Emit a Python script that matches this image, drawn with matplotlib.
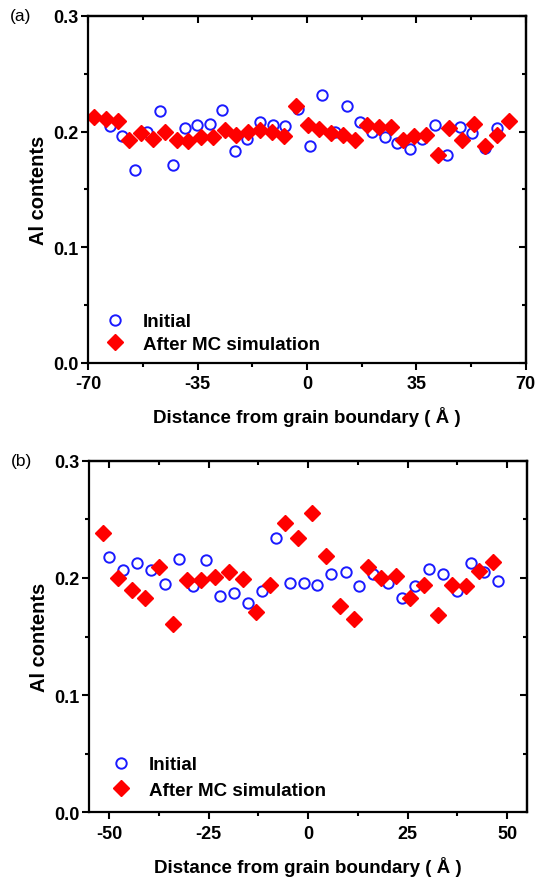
import matplotlib.pyplot as plt
from matplotlib.ticker import MultipleLocator

# panel (a) data
a_init_x = [-63.1, -59.1, -55.0, -51.1, -47.1, -43.0, -39.1, -35.1, -31.1, -27.1, -23.1,
            -19.1, -15.0, -11.0, -7.1, -2.9, 0.9, 4.9, 8.9, 12.9, 16.9, 20.8, 24.9,
            28.9, 32.9, 36.9, 40.9, 44.9, 48.9, 52.9, 56.9, 60.9]
a_init_y = [0.205, 0.196, 0.167, 0.200, 0.218, 0.171, 0.203, 0.206, 0.207, 0.219, 0.183,
            0.194, 0.208, 0.206, 0.205, 0.220, 0.188, 0.232, 0.200, 0.222, 0.208, 0.200,
            0.195, 0.190, 0.185, 0.194, 0.206, 0.180, 0.204, 0.199, 0.186, 0.203]
a_mc_x = [-68.3, -64.4, -60.6, -56.9, -53.1, -49.2, -45.3, -41.7, -38.0, -34.0, -30.2,
          -26.4, -22.7, -18.9, -15.0, -11.1, -7.4, -3.6, 0.2, 4.0, 7.8, 11.4, 15.3,
          19.1, 22.9, 26.8, 30.6, 34.2, 38.0, 42.0, 45.6, 49.6, 53.3, 57.1, 60.9, 64.7]
a_mc_y = [0.213, 0.211, 0.209, 0.193, 0.199, 0.194, 0.200, 0.193, 0.192, 0.195, 0.195,
          0.201, 0.197, 0.200, 0.201, 0.200, 0.196, 0.222, 0.206, 0.202, 0.199, 0.197,
          0.193, 0.206, 0.204, 0.204, 0.193, 0.196, 0.197, 0.180, 0.203, 0.193, 0.207,
          0.188, 0.197, 0.209]

# panel (b) data
b_init_x = [-50.0, -46.5, -43.0, -39.5, -36.0, -32.5, -29.0, -25.6, -22.1, -18.6, -15.1,
            -11.7, -8.2, -4.6, -1.1, 2.3, 5.8, 9.4, 12.9, 16.3, 20.0, 23.5, 26.8,
            30.4, 33.9, 37.4, 40.9, 44.3, 47.8]
b_init_y = [0.218, 0.207, 0.213, 0.207, 0.195, 0.216, 0.193, 0.215, 0.185, 0.187, 0.179,
            0.189, 0.234, 0.196, 0.196, 0.194, 0.203, 0.205, 0.193, 0.203, 0.196, 0.183,
            0.193, 0.208, 0.203, 0.189, 0.213, 0.205, 0.197]
b_mc_x = [-51.5, -47.8, -44.3, -40.9, -37.4, -33.9, -30.4, -27.0, -23.5, -20.0, -16.3,
          -13.0, -9.6, -5.9, -2.6, 1.0, 4.5, 8.0, 11.5, 15.0, 18.4, 22.0, 25.5,
          29.1, 32.6, 36.1, 39.6, 43.0, 46.5]
b_mc_y = [0.238, 0.200, 0.190, 0.183, 0.209, 0.161, 0.198, 0.198, 0.201, 0.205, 0.199,
          0.171, 0.194, 0.247, 0.234, 0.255, 0.219, 0.176, 0.165, 0.209, 0.200, 0.202,
          0.183, 0.194, 0.168, 0.194, 0.193, 0.206, 0.214]

plt.rcParams['font.family'] = ['Liberation Sans', 'DejaVu Sans']

fig = plt.figure(figsize=(5.43, 8.79), dpi=100)


def draw_panel(ax, ix, iy, mx, my, xlim, xmajor, letter, leg_x, leg_y, leg_sp):
    ax.plot(ix, iy, 'o', mfc='none', mec='#1a1aff', mew=1.4, ms=7.5, ls='none', label='Initial')
    ax.plot(mx, my, 'D', color='#ff0000', ms=8, ls='none', label='After MC simulation')
    ax.set_xlim(*xlim)
    ax.set_ylim(0, 0.3)
    ax.xaxis.set_major_locator(MultipleLocator(xmajor))
    ax.xaxis.set_minor_locator(MultipleLocator(xmajor / 2))
    ax.yaxis.set_major_locator(MultipleLocator(0.1))
    ax.yaxis.set_minor_locator(MultipleLocator(0.05))
    ax.yaxis.set_major_formatter(plt.FuncFormatter(lambda v, p: f'{v:.1f}'))
    ax.xaxis.set_major_formatter(plt.FuncFormatter(lambda v, p: f'{v:g}'))
    for s in ax.spines.values():
        s.set_linewidth(1.6)
    ax.tick_params(which='major', direction='out', length=5, width=1.5, labelsize=13, pad=2)
    ax.tick_params(axis='x', which='major', pad=4)
    ax.tick_params(which='minor', direction='out', length=3, width=1.5)
    for lab in ax.get_xticklabels() + ax.get_yticklabels():
        lab.set_fontweight('bold')

    # mirrored ticks pointing inward on top and right
    top = ax.secondary_xaxis('top')
    top.xaxis.set_major_locator(MultipleLocator(xmajor))
    top.xaxis.set_minor_locator(MultipleLocator(xmajor / 2))
    top.tick_params(which='major', direction='in', length=5, width=1.5, labeltop=False)
    top.tick_params(which='minor', direction='in', length=3, width=1.5)
    right = ax.secondary_yaxis('right')
    right.yaxis.set_major_locator(MultipleLocator(0.1))
    right.yaxis.set_minor_locator(MultipleLocator(0.05))
    right.tick_params(which='major', direction='in', length=5, width=1.5, labelright=False)
    right.tick_params(which='minor', direction='in', length=3, width=1.5)
    for s in list(top.spines.values()) + list(right.spines.values()):
        s.set_linewidth(1.6)

    ax.set_xlabel('Distance from grain boundary ( Å )', fontsize=13.5, fontweight='bold', labelpad=10)
    ax.set_ylabel('Al contents', fontsize=14.5, fontweight='bold', labelpad=4)
    ax.legend(loc='lower left', frameon=False, prop={'weight': 'bold', 'size': 13.5},
              handlelength=1.0, handletextpad=1.0, labelspacing=leg_sp,
              bbox_to_anchor=(leg_x, leg_y))
    ax.text(-0.18, 1.0, letter, transform=ax.transAxes, fontsize=12.5, va='center', ha='left')


ax1 = fig.add_axes([0.1626, 0.5859, 0.8055, 0.3948])
draw_panel(ax1, a_init_x, a_init_y, a_mc_x, a_mc_y, (-70, 70), 35, '(a)', 0.001, -0.02, 0.3)

ax2 = fig.add_axes([0.1645, 0.0747, 0.806, 0.400])
draw_panel(ax2, b_init_x, b_init_y, b_mc_x, b_mc_y, (-55, 55), 25, '(b)', 0.012, -0.01, 0.45)

fig.savefig('out.png', dpi=100)
